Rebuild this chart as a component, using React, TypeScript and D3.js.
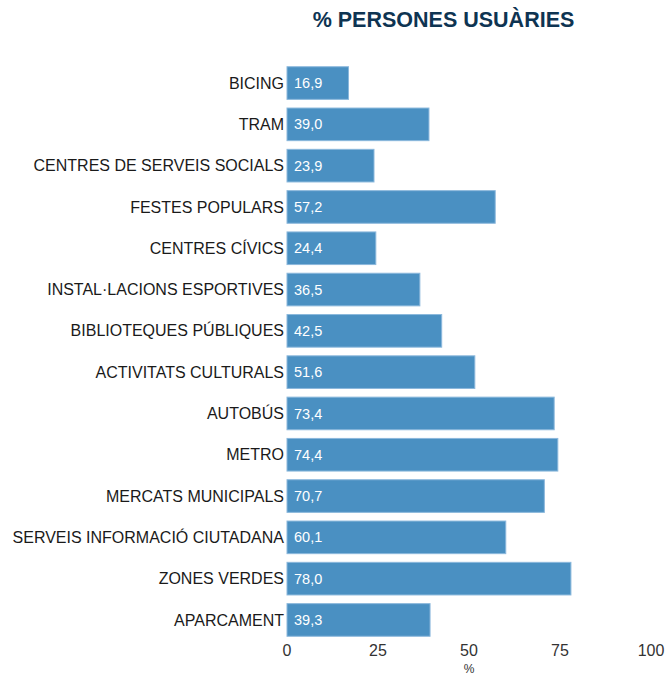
import React from "react";
import * as d3 from "d3";

const categories = [
  "BICING",
  "TRAM",
  "CENTRES DE SERVEIS SOCIALS",
  "FESTES POPULARS",
  "CENTRES CÍVICS",
  "INSTAL·LACIONS ESPORTIVES",
  "BIBLIOTEQUES PÚBLIQUES",
  "ACTIVITATS CULTURALS",
  "AUTOBÚS",
  "METRO",
  "MERCATS MUNICIPALS",
  "SERVEIS INFORMACIÓ CIUTADANA",
  "ZONES VERDES",
  "APARCAMENT",
];
const values = [16.9, 39.0, 23.9, 57.2, 24.4, 36.5, 42.5, 51.6, 73.4, 74.4, 70.7, 60.1, 78.0, 39.3];
const ticks = [0, 25, 50, 75, 100];
const title = "% PERSONES USUÀRIES";
const axisTitle = "%";

const W = 669;
const H = 676;
const FONT = "'Liberation Sans', Arial, sans-serif";

export default function App() {
  const x = d3.scaleLinear().domain([0, 100]).range([287, 651]);
  const y = d3
    .scaleBand<string>()
    .domain(categories)
    .range([62.4, 640.6])
    .paddingInner(0.21)
    .paddingOuter(0.105);
  const fmt = (v: number) => v.toFixed(1).replace(".", ",");

  return (
    <svg
      width={W}
      height={H}
      style={{ position: "absolute", left: 0, top: 0, background: "#fff" }}
      fontFamily={FONT}
    >
      <text x={443.5} y={27} textAnchor="middle" fontSize={21.5} fontWeight="bold" fill="#0e3452">
        {title}
      </text>
      {categories.map((c, i) => (
        <g key={c}>
          <rect
            x={x(0)}
            y={y(c)!}
            width={x(values[i]) - x(0)}
            height={y.bandwidth()}
            fill="#4a90c2"
            stroke="#8bb8dc"
            strokeWidth={1}
          />
          <text
            x={x(0) - 3}
            y={y(c)! + y.bandwidth() / 2}
            dy="0.35em"
            textAnchor="end"
            fontSize={16}
            fill="#1a1a1a"
          >
            {c}
          </text>
          <text
            x={x(0) + 7}
            y={y(c)! + y.bandwidth() / 2}
            dy="0.35em"
            fontSize={14.5}
            fill="#ffffff"
          >
            {fmt(values[i])}
          </text>
        </g>
      ))}
      {ticks.map((t) => (
        <text key={t} x={x(t)} y={650} dy="0.35em" textAnchor="middle" fontSize={16} fill="#333">
          {t}
        </text>
      ))}
      <text x={x(50)} y={669} dy="0.35em" textAnchor="middle" fontSize={12} fill="#333">
        {axisTitle}
      </text>
    </svg>
  );
}
